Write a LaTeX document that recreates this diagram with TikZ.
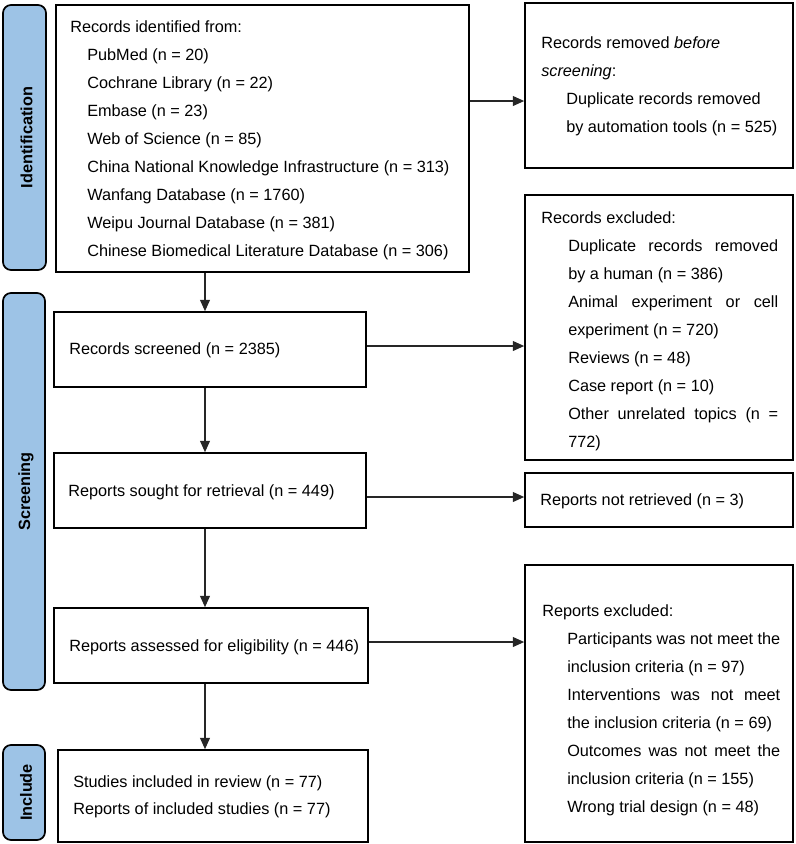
\documentclass[tikz,border=0pt]{standalone}
\usepackage{fontspec}
\setmainfont{Liberation Sans}
\usetikzlibrary{arrows.meta,fit,calc}
\newlength\px \setlength\px{0.75pt}
\definecolor{barblue}{RGB}{157,195,230}
\begin{document}
\begin{tikzpicture}[x=0.75pt,y=-0.75pt,
  box/.style={draw=black, line width=1.3pt, inner sep=0pt},
  bar/.style={draw=black, line width=1.3pt, fill=barblue, rounded corners=6pt, inner sep=0pt},
  bartext/.style={font=\bfseries\fontsize{12.2}{14}\selectfont, rotate=90, inner sep=0pt},
  txt/.style={font=\fontsize{12.2}{21}\selectfont, align=left, inner sep=0pt, anchor=west},
  arr/.style={draw=black!85, line width=0.8pt, -{Triangle[length=8.5pt,width=7.5pt]}},
]
\useasboundingbox (0,0) rectangle (796,844);

% side bars
\node[bar, fit={(3,5) (46,270)}] (barid) {};
\node[bar, fit={(3,293) (45,690)}] (barsc) {};
\node[bar, fit={(3,745) (45,840)}] (barin) {};
\node[bartext] (barid-t) at ([xshift=1.5pt]barid.center) {Identification};
\node[bartext] (barsc-t) at ([xshift=1.5pt]barsc.center) {Screening};
\node[bartext] (barin-t) at ([xshift=1.5pt]barin.center) {Include};

% boxes
\node[box, fit={(56,5) (469,272)}] (ident) {};
\node[box, fit={(525,3) (793,168)}] (removed) {};
\node[box, fit={(525,195) (793,460)}] (recexcl) {};
\node[box, fit={(54,312) (366,387)}] (screened) {};
\node[box, fit={(54,453) (366,528)}] (sought) {};
\node[box, fit={(525,473) (793,527)}] (notret) {};
\node[box, fit={(54,608) (368,683)}] (assessed) {};
\node[box, fit={(525,565) (793,842)}] (repexcl) {};
\node[box, fit={(58,750) (368,842)}] (included) {};

% texts
\node[txt] (ident-t) at (70,140.5) {Records identified from:\\
\hspace*{17\px}PubMed (n = 20)\\
\hspace*{17\px}Cochrane Library (n = 22)\\
\hspace*{17\px}Embase (n = 23)\\
\hspace*{17\px}Web of Science (n = 85)\\
\hspace*{17\px}China National Knowledge Infrastructure (n = 313)\\
\hspace*{17\px}Wanfang Database (n = 1760)\\
\hspace*{17\px}Weipu Journal Database (n = 381)\\
\hspace*{17\px}Chinese Biomedical Literature Database (n = 306)};

\node[txt] (removed-t) at (541,86.5) {Records removed \textit{before}\\
\textit{screening}:\\
\hspace*{25\px}Duplicate records removed\\
\hspace*{25\px}by automation tools (n = 525)};

\node[txt] (recexcl-t) at (541,331.5) {Records excluded:\\
\hspace*{27\px}\makebox[210\px][s]{Duplicate records removed}\\
\hspace*{27\px}by a human (n = 386)\\
\hspace*{27\px}\makebox[210\px][s]{Animal experiment or cell}\\
\hspace*{27\px}experiment (n = 720)\\
\hspace*{27\px}Reviews (n = 48)\\
\hspace*{27\px}Case report (n = 10)\\
\hspace*{27\px}\makebox[210\px][s]{Other unrelated topics (n =}\\
\hspace*{27\px}772)};

\node[txt] (screened-t) at (69,350) {Records screened (n = 2385)};
\node[txt] (sought-t) at (68,492) {Reports sought for retrieval (n = 449)};
\node[txt] (notret-t) at (540,501) {Reports not retrieved (n = 3)};
\node[txt] (assessed-t) at (69,647) {Reports assessed for eligibility (n = 446)};

\node[txt] (repexcl-t) at (542,710.5) {Reports excluded:\\
\hspace*{25\px}\makebox[213\px][s]{Participants was not meet the}\\
\hspace*{25\px}inclusion criteria (n = 97)\\
\hspace*{25\px}\makebox[213\px][s]{Interventions was not meet}\\
\hspace*{25\px}the inclusion criteria (n = 69)\\
\hspace*{25\px}\makebox[213\px][s]{Outcomes was not meet the}\\
\hspace*{25\px}inclusion criteria (n = 155)\\
\hspace*{25\px}Wrong trial design (n = 48)};

\node[txt, font=\fontsize{12.2}{20.25}\selectfont] (included-t) at (73,796.5) {Studies included in review (n = 77)\\
Reports of included studies (n = 77)};

% connectors
\coordinate (vx) at (205,0);
\coordinate (h1) at (0,101);
\coordinate (h2) at (0,346);
\coordinate (h3) at (0,497);
\coordinate (h4) at (0,642);
\draw[arr] (ident.south -| vx) -- (screened.north -| vx);
\draw[arr] (screened.south -| vx) -- (sought.north -| vx);
\draw[arr] (sought.south -| vx) -- (assessed.north -| vx);
\draw[arr] (assessed.south -| vx) -- (included.north -| vx);
\draw[arr] (ident.east |- h1) -- (removed.west |- h1);
\draw[arr] (screened.east |- h2) -- (recexcl.west |- h2);
\draw[arr] (sought.east |- h3) -- (notret.west |- h3);
\draw[arr] (assessed.east |- h4) -- (repexcl.west |- h4);
\end{tikzpicture}
\end{document}
